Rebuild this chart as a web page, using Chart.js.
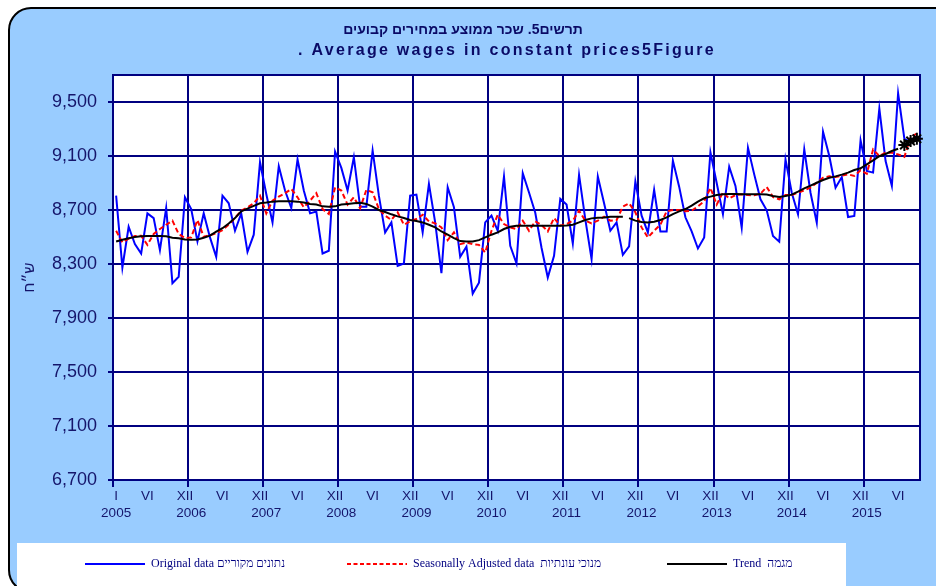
<!DOCTYPE html>
<html>
<head>
<meta charset="utf-8">
<script src="https://cdn.jsdelivr.net/npm/chart.js@4.4.1/dist/chart.umd.min.js"></script>
<style>
  html, body { margin: 0; padding: 0; background: #fff; }
  #wrap { width: 936px; height: 586px; }
</style>
</head>
<body>
<div id="wrap"><canvas id="wagesChart" width="936" height="586"></canvas></div>
<script>
// ---- data (monthly, Jan 2005 - Sep 2015) ----
const years = ['2005', '2006', '2007', '2008', '2009', '2010', '2011', '2012', '2013', '2014', '2015'];
const romanMonths = ['I', 'II', 'III', 'IV', 'V', 'VI', 'VII', 'VIII', 'IX', 'X', 'XI', 'XII'];
const shownMonths = ['VI', 'XII'];
const yTicks = [6700, 7100, 7500, 7900, 8300, 8700, 9100, 9500];

const original = [
    8806, 8274, 8576, 8447, 8378, 8675, 8640, 8403, 8715, 8158, 8205, 8794,
    8707, 8467, 8675, 8497, 8353, 8806, 8750, 8546, 8675, 8390, 8517, 9054,
    8819, 8608, 9024, 8844, 8715, 9074, 8844, 8675, 8688, 8378, 8398, 9133,
    9012, 8844, 9091, 8725, 8725, 9141, 8806, 8534, 8608, 8286, 8304, 8806,
    8814, 8534, 8893, 8608, 8232, 8868, 8720, 8353, 8428, 8081, 8162, 8608,
    8658, 8546, 8948, 8435, 8304, 8972, 8830, 8680, 8420, 8200, 8361, 8782,
    8740, 8452, 8960, 8630, 8336, 8948, 8750, 8546, 8608, 8368, 8430, 8911,
    8658, 8534, 8849, 8541, 8541, 9066, 8873, 8646, 8541, 8415, 8497, 9128,
    8900, 8670, 9021, 8878, 8569, 9162, 8964, 8779, 8698, 8507, 8465, 9075,
    8828, 8668, 9149, 8828, 8606, 9280, 9100, 8865, 8944, 8648, 8656, 9216,
    8989, 8977, 9451, 9063, 8878, 9564, 9228, 9200, 9230
];
const seasonal = [
    8546, 8460, 8487, 8507, 8509, 8442, 8522, 8559, 8591, 8621, 8522, 8492,
    8497, 8626, 8502, 8514, 8527, 8551, 8591, 8641, 8695, 8720, 8750, 8806,
    8675, 8769, 8799, 8824, 8856, 8794, 8720, 8769, 8825, 8707, 8670, 8868,
    8844, 8740, 8794, 8712, 8849, 8831, 8707, 8658, 8626, 8683, 8591, 8616,
    8633, 8665, 8616, 8601, 8571, 8477, 8534, 8447, 8460, 8447, 8442, 8385,
    8546, 8665, 8596, 8571, 8559, 8621, 8546, 8616, 8589, 8541, 8641, 8584,
    8596, 8621, 8695, 8621, 8601, 8621, 8650, 8621, 8626, 8725, 8750, 8683,
    8571, 8497, 8546, 8591, 8690, 8700, 8700, 8690, 8695, 8727, 8764, 8864,
    8740, 8830, 8786, 8811, 8816, 8811, 8809, 8821, 8870, 8796, 8779, 8811,
    8811, 8828, 8846, 8865, 8902, 8939, 8949, 8944, 8954, 8964, 8952, 8994,
    8969, 9149, 9100, 9125, 9125, 9112, 9093, 9241, 9265
];
const trend = [
    8467, 8480, 8490, 8500, 8505, 8508, 8508, 8508, 8505, 8495, 8490, 8482,
    8480, 8482, 8495, 8510, 8540, 8565, 8600, 8640, 8690, 8710, 8730, 8750,
    8755, 8762, 8765, 8765, 8765, 8762, 8755, 8745, 8740, 8727, 8725, 8727,
    8740, 8745, 8750, 8754, 8745, 8725, 8700, 8685, 8668, 8653, 8641, 8626,
    8618, 8608, 8591, 8571, 8541, 8517, 8492, 8470, 8467, 8467, 8477, 8497,
    8517, 8534, 8559, 8576, 8584, 8584, 8584, 8584, 8584, 8584, 8584, 8584,
    8586, 8591, 8608, 8626, 8638, 8643, 8645, 8650, 8650, 8650, 8640, 8621,
    8611, 8608, 8613, 8626, 8645, 8670, 8690, 8707, 8732, 8762, 8787, 8799,
    8811, 8816, 8818, 8818, 8816, 8816, 8816, 8816, 8814, 8804, 8796, 8804,
    8814, 8836, 8860, 8880, 8902, 8922, 8939, 8949, 8962, 8977, 8996, 9009,
    9038, 9068, 9098, 9115, 9137, 9154, 9181, 9211, 9228
];
// trend segment after these points is not drawn; last points are marked
const trendBreaks = [81, 125];
const trendMarkedFrom = 126;

const categories = original.map((v, i) => years[Math.floor(i / 12)] + ' ' + romanMonths[i % 12]);

// ---- styles ----
const NAVY = '#000080';
const TEXT = '#15156b';
const SANS = '"Liberation Sans", Arial, sans-serif';

function xTickLabel(i) {
    const m = i % 12;
    let top = '';
    if (i === 0) top = romanMonths[0];
    else if (shownMonths.includes(romanMonths[m])) top = romanMonths[m];
    const bottom = m === 0 ? years[i / 12] : '';
    return [top, bottom];
}

// draw text so it spans a given width (the original uses wide letter spacing)
function fitText(ctx, text, cx, cy, width) {
    ctx.letterSpacing = '0px';
    const w0 = ctx.measureText(text).width;
    const n = [...text].length;
    ctx.letterSpacing = Math.max(0, (width - w0) / n).toFixed(2) + 'px';
    ctx.fillText(text, cx, cy);
    ctx.letterSpacing = '0px';
}

function roundRectPath(ctx, x, y, w, h, r) {
    ctx.beginPath();
    ctx.moveTo(x + r, y);
    ctx.lineTo(x + w - r, y);
    ctx.arcTo(x + w, y, x + w, y + r, r);
    ctx.lineTo(x + w, y + h - r);
    ctx.arcTo(x + w, y + h, x + w - r, y + h, r);
    ctx.lineTo(x + r, y + h);
    ctx.arcTo(x, y + h, x, y + h - r, r);
    ctx.lineTo(x, y + r);
    ctx.arcTo(x, y, x + r, y, r);
    ctx.closePath();
}

const framePlugin = {
    id: 'frame',
    beforeDraw(chart) {
        const { ctx, chartArea: a } = chart;
        ctx.save();
        ctx.fillStyle = '#fff';
        ctx.fillRect(0, 0, chart.width, chart.height);
        roundRectPath(ctx, 9, 8, 1000, 584, 22);
        ctx.fillStyle = '#99ccff';
        ctx.fill();
        ctx.lineWidth = 2;
        ctx.strokeStyle = '#000';
        ctx.stroke();
        ctx.fillStyle = '#fff';
        ctx.fillRect(a.left, a.top, a.right - a.left, a.bottom - a.top);
        ctx.restore();
    },
    beforeDatasetsDraw(chart) {
        const { ctx, chartArea: a } = chart;
        ctx.save();
        ctx.strokeStyle = NAVY;
        ctx.lineWidth = 2;
        ctx.strokeRect(a.left, a.top, a.right - a.left, a.bottom - a.top);
        ctx.restore();
    },
    afterDraw(chart) {
        const { ctx } = chart;
        ctx.save();

        // title
        ctx.fillStyle = '#0a0a66';
        ctx.textAlign = 'center';
        ctx.textBaseline = 'middle';
        ctx.font = 'bold 14px ' + SANS;
        fitText(ctx, 'תרשים5. שכר ממוצע במחירים קבועים', 463, 30, 215);
        ctx.font = 'bold 16px ' + SANS;
        fitText(ctx, '. Average wages in constant prices5Figure', 507, 51, 418);

        // legend
        ctx.fillStyle = '#fff';
        ctx.fillRect(17, 543, 829, 43);
        const items = [
            { text: 'Original data נתונים מקוריים', color: '#0000ff', dash: [], x: 85 },
            { text: 'Seasonally Adjusted data  מנוכי עונתיות', color: '#ff0000', dash: [4, 2.5], x: 347 },
            { text: 'Trend  מגמה', color: '#000', dash: [], x: 667 }
        ];
        const ly = 564;
        ctx.textAlign = 'left';
        ctx.font = '12px "Liberation Serif", "Times New Roman", serif';
        items.forEach(it => {
            ctx.beginPath();
            ctx.setLineDash(it.dash);
            ctx.strokeStyle = it.color;
            ctx.lineWidth = 2;
            ctx.moveTo(it.x, ly);
            ctx.lineTo(it.x + 60, ly);
            ctx.stroke();
            ctx.setLineDash([]);
            ctx.fillStyle = NAVY;
            ctx.fillText(it.text, it.x + 66, ly);
        });
        ctx.restore();
    }
};

const ctx = document.getElementById('wagesChart');
new Chart(ctx, {
    type: 'line',
    data: {
        labels: categories,
        datasets: [
            {
                label: 'Trend',
                data: trend,
                borderColor: '#000',
                borderWidth: 2,
                pointStyle: 'star',
                pointRadius: c => c.dataIndex >= trendMarkedFrom ? 6 : 0,
                pointBorderColor: '#000',
                pointBorderWidth: 2,
                segment: {
                    borderColor: c => trendBreaks.includes(c.p0DataIndex) ? 'rgba(0,0,0,0)' : '#000'
                },
                order: 0
            },
            {
                label: 'Seasonally Adjusted data',
                data: seasonal,
                borderColor: '#ff0000',
                borderWidth: 2,
                borderDash: [5, 3],
                pointRadius: 0,
                order: 1
            },
            {
                label: 'Original data',
                data: original,
                borderColor: '#0000ff',
                borderWidth: 2,
                pointRadius: 0,
                order: 2
            }
        ]
    },
    options: {
        responsive: false,
        animation: false,
        devicePixelRatio: 1,
        layout: { padding: { top: 75, right: 16, bottom: 46, left: 0 } },
        plugins: {
            legend: { display: false },
            tooltip: { enabled: false }
        },
        scales: {
            x: {
                type: 'category',
                offset: true,
                grid: {
                    offset: true,
                    color: c => c.index % 12 === 0 ? NAVY : 'rgba(0,0,0,0)',
                    tickColor: c => c.index % 12 === 0 ? NAVY : 'rgba(0,0,0,0)',
                    lineWidth: 2,
                    tickLength: 7
                },
                border: { color: NAVY, width: 2 },
                ticks: {
                    autoSkip: false,
                    maxRotation: 0,
                    minRotation: 0,
                    padding: 1,
                    color: TEXT,
                    font: { family: SANS, size: 13.5, lineHeight: 1.25 },
                    callback: (v, i) => xTickLabel(i)
                },
                afterFit: s => { s.height = 60; }
            },
            y: {
                min: 6700,
                max: 9700,
                afterBuildTicks: s => { s.ticks = yTicks.map(v => ({ value: v })); },
                grid: { color: NAVY, lineWidth: 2, tickLength: 5 },
                border: { color: NAVY, width: 2 },
                ticks: {
                    color: TEXT,
                    padding: 11,
                    font: { family: SANS, size: 18 },
                    callback: v => v.toLocaleString('en-US')
                },
                title: {
                    display: true,
                    text: 'ש״ח',
                    color: TEXT,
                    font: { family: SANS, size: 15 },
                    padding: { top: 21 }
                },
                afterFit: s => { s.width = 113; }
            }
        }
    },
    plugins: [framePlugin]
});
</script>
</body>
</html>
